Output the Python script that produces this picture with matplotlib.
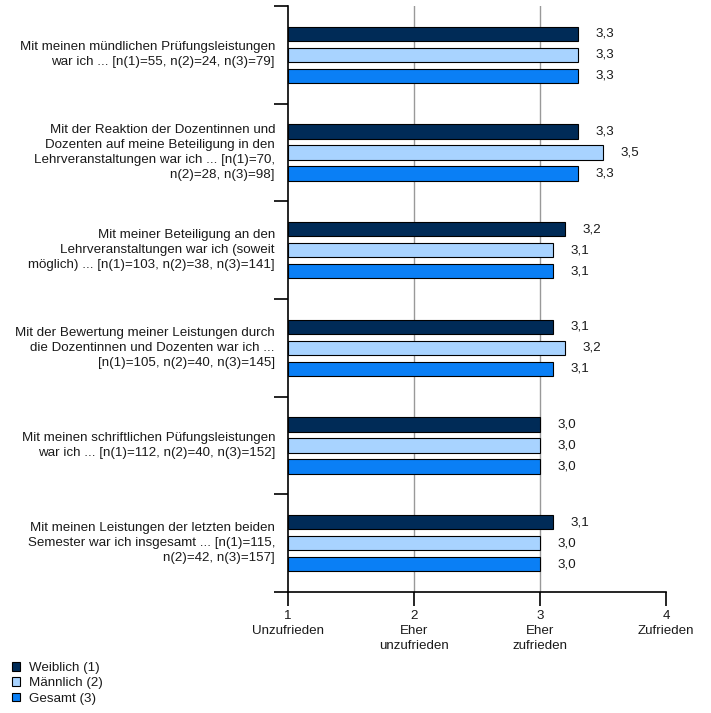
import matplotlib
matplotlib.use('Agg')
import matplotlib.pyplot as plt
from matplotlib.patches import Patch
import matplotlib.transforms as mtransforms
import numpy as np

questions = [
    'Mit meinen mündlichen Prüfungsleistungen\nwar ich ... [n(1)=55, n(2)=24, n(3)=79]',
    'Mit der Reaktion der Dozentinnen und\nDozenten auf meine Beteiligung in den\nLehrveranstaltungen war ich ... [n(1)=70,\nn(2)=28, n(3)=98]',
    'Mit meiner Beteiligung an den\nLehrveranstaltungen war ich (soweit\nmöglich) ... [n(1)=103, n(2)=38, n(3)=141]',
    'Mit der Bewertung meiner Leistungen durch\ndie Dozentinnen und Dozenten war ich ...\n[n(1)=105, n(2)=40, n(3)=145]',
    'Mit meinen schriftlichen Püfungsleistungen\nwar ich ... [n(1)=112, n(2)=40, n(3)=152]',
    'Mit meinen Leistungen der letzten beiden\nSemester war ich insgesamt ... [n(1)=115,\nn(2)=42, n(3)=157]',
]
weiblich = [3.3, 3.3, 3.2, 3.1, 3.0, 3.1]
maennlich = [3.3, 3.5, 3.1, 3.2, 3.0, 3.0]
gesamt = [3.3, 3.3, 3.1, 3.1, 3.0, 3.0]
series_names = ['Weiblich (1)', 'Männlich (2)', 'Gesamt (3)']
colors = ['#002b57', '#a8d3ff', '#0a7ff5']
xtick_labels = ['1\nUnzufrieden', '2\nEher\nunzufrieden', '3\nEher\nzufrieden', '4\nZufrieden']

plt.rcParams['font.family'] = ['Liberation Sans', 'DejaVu Sans']
fs = 9.6
txtcol = '#1a1a1a'

fig = plt.figure(figsize=(7.11, 7.13), dpi=100)
ax = fig.add_axes([288 / 711, 1 - 592 / 713, 378 / 711, 586 / 713])

n = len(questions)
pos = np.arange(n)
offs = [-0.215, 0.0, 0.215]
h = 0.145
for vals, off, c in zip([weiblich, maennlich, gesamt], offs, colors):
    ax.barh(pos + off, np.array(vals) - 1, left=1, height=h, color=c,
            edgecolor='black', linewidth=0.8, zorder=3)
    for p, v in zip(pos, vals):
        ax.text(v + 0.14, p + off, f'{v:.1f}'.replace('.', ','), va='center',
                ha='left', fontsize=fs, color=txtcol)

ax.set_xlim(1, 4)
ax.set_ylim(n - 0.5, -0.5)
ax.set_xticks([1, 2, 3, 4])
ax.set_xticklabels(xtick_labels, fontsize=fs, linespacing=1.32, color=txtcol)
ax.set_yticks(np.arange(n + 1) - 0.5)
ax.set_yticklabels([])
ax.tick_params(axis='y', direction='out', length=10, width=1.2)
ax.tick_params(axis='x', direction='out', length=10, width=1.2, pad=3)
for s in ['top', 'right']:
    ax.spines[s].set_visible(False)
ax.spines['left'].set_linewidth(1.2)
ax.spines['bottom'].set_linewidth(1.2)
for xv in [2, 3]:
    ax.axvline(xv, color='#999999', linewidth=1, zorder=1)

lab_tr = ax.get_yaxis_transform() + mtransforms.ScaledTranslation(-13 / 100, 0, fig.dpi_scale_trans)
for p, q in zip(pos, questions):
    ax.text(0, p, q, transform=lab_tr, ha='right', va='center', fontsize=fs,
            multialignment='right', linespacing=1.32, color=txtcol)

handles = [Patch(facecolor=c, edgecolor='black', linewidth=0.8) for c in colors]
fig.legend(handles, series_names, loc='upper left',
           bbox_to_anchor=(12 / 711, 1 - 662 / 713), frameon=False, fontsize=fs,
           handlelength=0.6, handleheight=0.6, handletextpad=0.7,
           labelspacing=0.25, borderaxespad=0, borderpad=0, labelcolor=txtcol)

fig.savefig('out.png', dpi=100)
